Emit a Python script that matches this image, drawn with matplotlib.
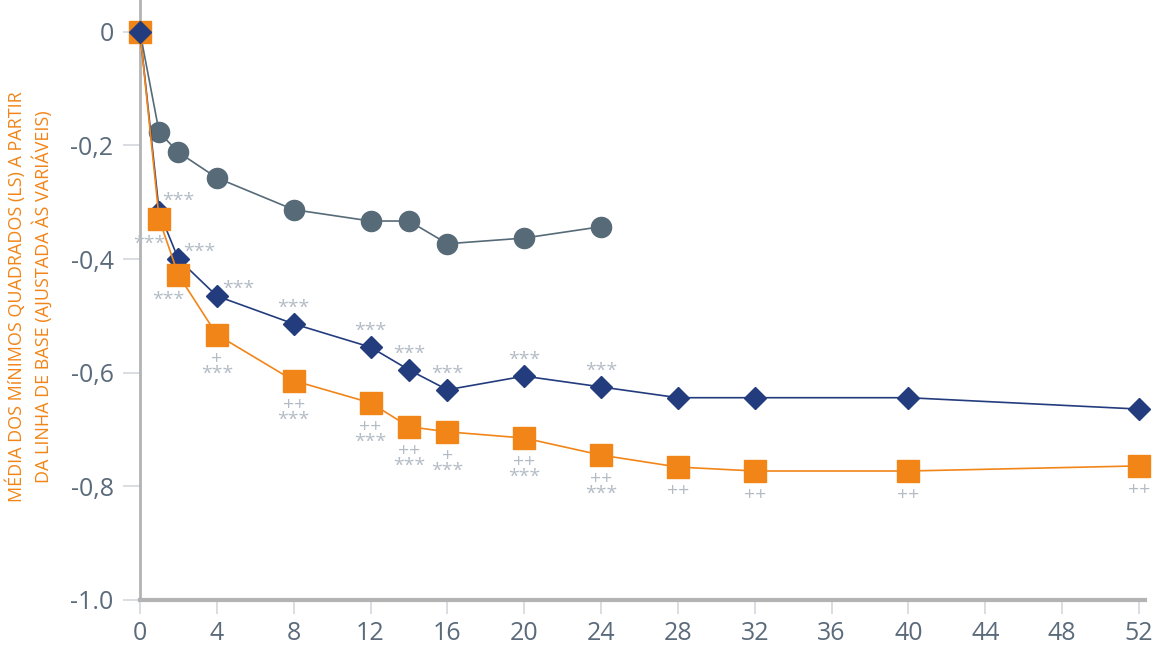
import matplotlib
matplotlib.use("Agg")
import matplotlib.pyplot as plt

# semanas e valores (LS médias)
weeks_gray = [0, 1, 2, 4, 8, 12, 14, 16, 20, 24]
gray_vals = [0, -0.177, -0.212, -0.257, -0.313, -0.333, -0.333, -0.373, -0.363, -0.343]

weeks = [0, 1, 2, 4, 8, 12, 14, 16, 20, 24, 28, 32, 40, 52]
blue_vals = [0, -0.317, -0.40, -0.465, -0.514, -0.555, -0.595, -0.630, -0.606, -0.625,
             -0.644, -0.644, -0.644, -0.664]
orange_vals = [0, -0.330, -0.428, -0.533, -0.614, -0.653, -0.695, -0.704, -0.715, -0.745,
               -0.766, -0.773, -0.773, -0.764]

# marcas de significância
blue_sig = ["", "***", "***", "***", "***", "***", "***", "***", "***", "***", "", "", "", ""]
orange_sig = ["", "***", "***", "+\n***", "++\n***", "++\n***", "++\n***", "+\n***",
              "++\n***", "++\n***", "++", "++", "++", "++"]

x_ticks = list(range(0, 53, 4))
y_ticks = [0, -0.2, -0.4, -0.6, -0.8, -1.0]
y_tick_labels = ["0", "-0,2", "-0,4", "-0,6", "-0,8", "-1.0"]

BLUE = "#233c7e"
GRAY = "#566a78"
ORANGE = "#f28518"
SIG = "#b3bbc5"
TICK = "#5b6b7b"

plt.rcParams['font.family'] = ['Open Sans', 'DejaVu Sans']

fig = plt.figure(figsize=(11.54, 6.55), dpi=100)
ax = fig.add_axes([0.1213, 0.084, 0.8707, 0.916])

ax.plot(weeks_gray, gray_vals, color=GRAY, lw=1.2, marker="o", ms=14.5,
        mec=GRAY, mfc=GRAY, zorder=3, clip_on=False)
ax.plot(weeks, blue_vals, color=BLUE, lw=1.2, marker="D", ms=11,
        mec=BLUE, mfc=BLUE, zorder=4, clip_on=False)
ax.plot(weeks, orange_vals, color=ORANGE, lw=1.2, marker="s", ms=16,
        mec=ORANGE, mfc=ORANGE, zorder=5, clip_on=False)
# ponto inicial azul por cima
ax.plot(weeks[:1], blue_vals[:1], color=BLUE, marker="D", ms=11, ls="none",
        zorder=6, clip_on=False)

# asteriscos azuis: acima / acima-direita nas primeiras semanas
for i, (w, v, s) in enumerate(zip(weeks, blue_vals, blue_sig)):
    if not s:
        continue
    if i == 1:
        off = (19, 2)
    elif i in (2, 3):
        off = (21, -2)
    else:
        off = (0, 7)
    ax.annotate(s, (w, v), xytext=off, textcoords="offset pixels",
                ha="center", va="bottom", fontsize=14, color=SIG, zorder=7)

for i, (w, v, s) in enumerate(zip(weeks, orange_vals, orange_sig)):
    if not s:
        continue
    if i in (1, 2):
        off = (-10, -16)
    else:
        off = (0, -15)
    ax.annotate(s, (w, v), xytext=off, textcoords="offset pixels",
                ha="center", va="top", fontsize=14, color=SIG, linespacing=0.8,
                zorder=7)

ax.set_xlim(0, 52.3)
ax.set_ylim(-1.0, 0.056)
ax.set_xticks(x_ticks)
ax.set_yticks(y_ticks)
ax.set_yticklabels(y_tick_labels)

for side in ("top", "right"):
    ax.spines[side].set_visible(False)
ax.spines["left"].set_color("#b3b3b3")
ax.spines["left"].set_linewidth(2)
ax.spines["bottom"].set_color("#b3b3b3")
ax.spines["bottom"].set_linewidth(3)

ax.tick_params(axis="y", length=12, width=1.2, color="#d3d7db", labelsize=18,
               labelcolor=TICK, pad=7)
ax.tick_params(axis="x", length=10, width=1.2, color="#d3d7db", labelsize=18,
               labelcolor=TICK, pad=5)

ax.set_ylabel("MÉDIA DOS MíNIMOS QUADRADOS (LS) A PARTIR\nDA LINHA DE BASE (AJUSTADA ÀS VARIÁVEIS)",
              color=ORANGE, fontsize=13, linespacing=1.35)
ax.yaxis.set_label_coords(-0.0866, 0.505)

fig.savefig("out.png", dpi=100)
